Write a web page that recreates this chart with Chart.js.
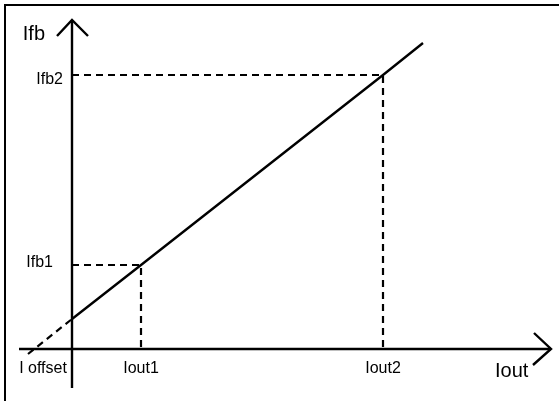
<!DOCTYPE html>
<html>
<head>
<meta charset="utf-8">
<script src="https://cdn.jsdelivr.net/npm/chart.js@4/dist/chart.umd.min.js"></script>
<style>
    html, body { margin: 0; padding: 0; background: #fff; }
    canvas { display: block; }
</style>
</head>
<body>
<canvas id="transferChart" width="559" height="401"></canvas>
<script>
// Transfer line Ifb vs Iout
const ioutPoints = [-44, 0, 69, 311, 351];
const ifbPoints = [-5, 30, 84, 274, 306];

// Marked operating points
const xTickNames = ['I offset', 'Iout1', 'Iout2'];
const xTickValues = [-29, 69, 311];
const yTickNames = ['Ifb1', 'Ifb2'];
const yTickValues = [84, 274];

// Axis extents and titles
const xAxisRange = [-53, 479];
const yAxisRange = [-39, 329];
const axisTitles = ['Iout', 'Ifb'];

const pts = (xs, ys) => xs.map((x, i) => ({ x: x, y: ys[i] }));

const solid = (data) => ({
    data: data, borderColor: '#000', borderWidth: 2.4, pointRadius: 0, showLine: true, fill: false
});
const dashed = (data) => Object.assign(solid(data), { borderWidth: 2.2, borderDash: [7, 5] });

const datasets = [];
// axes with arrow heads
datasets.push(solid([{ x: 0, y: yAxisRange[0] }, { x: 0, y: yAxisRange[1] }]));
datasets.push(solid([{ x: xAxisRange[0], y: 0 }, { x: xAxisRange[1], y: 0 }]));
datasets.push(solid([
    { x: -15, y: yAxisRange[1] - 16 }, { x: 0, y: yAxisRange[1] }, { x: 16, y: yAxisRange[1] - 16 }
]));
datasets.push(solid([
    { x: xAxisRange[1] - 17, y: 16 }, { x: xAxisRange[1], y: 0 }, { x: xAxisRange[1] - 18, y: -16 }
]));
// transfer line, extension below zero is dashed
datasets.push(solid(pts(ioutPoints.slice(1), ifbPoints.slice(1))));
datasets.push(dashed(pts(ioutPoints.slice(0, 2), ifbPoints.slice(0, 2))));
// guide lines to the marked points
yTickValues.forEach((y, i) => {
    const x = xTickValues[i + 1];
    datasets.push(dashed([{ x: 0, y: y }, { x: x, y: y }, { x: x, y: 0 }]));
});

const frame = {
    id: 'frame',
    beforeDraw(chart) {
        const ctx = chart.ctx;
        ctx.save();
        ctx.fillStyle = '#000';
        ctx.fillRect(4, 4, 2, chart.height);
        ctx.fillRect(4, 4, chart.width, 2);
        ctx.restore();
    }
};

const labels = {
    id: 'labels',
    afterDatasetsDraw(chart) {
        const ctx = chart.ctx;
        const sx = chart.scales.x, sy = chart.scales.y;
        const x0 = sx.getPixelForValue(0), y0 = sy.getPixelForValue(0);
        ctx.save();
        ctx.fillStyle = '#000';
        ctx.textBaseline = 'alphabetic';
        ctx.font = '16px "Liberation Sans", Arial, sans-serif';
        ctx.textAlign = 'center';
        xTickNames.forEach((name, i) => {
            ctx.fillText(name, sx.getPixelForValue(xTickValues[i]), y0 + 24);
        });
        ctx.textAlign = 'right';
        const yGap = [19, 9], yDrop = [2, 9];
        yTickNames.forEach((name, i) => {
            ctx.fillText(name, x0 - yGap[i], sy.getPixelForValue(yTickValues[i]) + yDrop[i]);
        });
        ctx.font = '20px "Liberation Sans", Arial, sans-serif';
        ctx.textAlign = 'left';
        ctx.fillText(axisTitles[0], sx.getPixelForValue(xAxisRange[1]) - 56, y0 + 28);
        ctx.textAlign = 'right';
        ctx.fillText(axisTitles[1], x0 - 27, sy.getPixelForValue(yAxisRange[1]) + 20);
        ctx.restore();
    }
};

new Chart(document.getElementById('transferChart'), {
    type: 'scatter',
    data: { datasets: datasets },
    options: {
        responsive: false,
        animation: false,
        devicePixelRatio: 1,
        layout: { padding: 0 },
        scales: {
            x: { type: 'linear', min: -72, max: 487, display: false },
            y: { type: 'linear', min: -52, max: 349, display: false }
        },
        plugins: {
            legend: { display: false },
            tooltip: { enabled: false }
        }
    },
    plugins: [frame, labels]
});
</script>
</body>
</html>
